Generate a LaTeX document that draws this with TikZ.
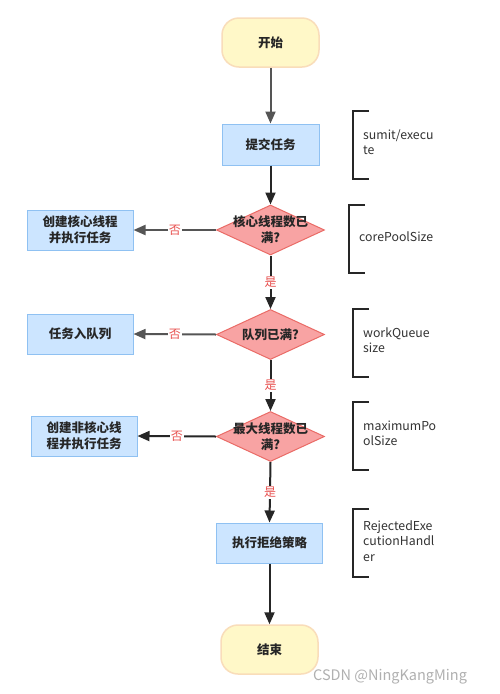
\documentclass[tikz,border=0pt]{standalone}
\usepackage{fontspec}
\setmainfont{Noto Sans CJK SC}
\usetikzlibrary{shapes.geometric,arrows.meta}
\definecolor{termfill}{HTML}{FFF8C8}
\definecolor{termdraw}{HTML}{F9DDBA}
\definecolor{boxfill}{HTML}{CCE5FF}
\definecolor{boxdraw}{HTML}{8FC1F2}
\definecolor{diafill}{HTML}{F8A3A3}
\definecolor{diadraw}{HTML}{EA6B66}
\definecolor{lblred}{HTML}{E8504F}
\definecolor{darkline}{HTML}{262626}
\definecolor{grayline}{HTML}{555555}
\definecolor{sidetext}{HTML}{333333}
\definecolor{wmark}{HTML}{B0B0B0}
\tikzset{
  nodefont/.style={font=\bfseries\fontsize{12.5}{16}\selectfont, text=black!85, align=center},
  term/.style={nodefont, draw=termdraw, fill=termfill, line width=1.5pt, rounded corners=17pt, minimum width=97pt, minimum height=49pt, inner sep=0pt},
  procbox/.style={nodefont, draw=boxdraw, fill=boxfill, line width=1pt, minimum width=97pt, minimum height=41pt, inner sep=0pt},
  widebox/.style={procbox, minimum width=106pt, minimum height=40pt},
  dia/.style={shape=diamond, draw=diadraw, fill=diafill, line width=1pt, minimum width=108pt, minimum height=50pt, inner sep=0pt},
  dtext/.style={nodefont, inner sep=0pt},
  darrow/.style={draw=darkline, line width=2pt, -{Triangle[length=12pt,width=10pt]}},
  garrow/.style={draw=grayline, line width=2pt, -{Triangle[length=12pt,width=10pt]}},
  lbl/.style={fill=white, text=lblred, font=\fontsize{12}{14}\selectfont, inner sep=1pt},
  sidelbl/.style={anchor=north west, align=left, text=sidetext, font=\fontsize{12.3}{15.5}\selectfont, inner sep=0pt},
  bracket/.style={draw=darkline, line width=1.6pt},
}
\begin{document}
\begin{tikzpicture}[x=1pt,y=-1pt]
\useasboundingbox[fill=white] (0,0) rectangle (500,694);
% nodes
\node[term] (start) at (270.5,42.5) {开始};
\node[procbox] (submit) at (270.5,144.5) {提交任务};
\node[dia] (d1) at (270.5,230) {};
\node[dtext] (d1t) at (270.5,230) {核心线程数已\\满?};
\node[widebox] (core) at (80,230) {创建核心线程\\并执行任务};
\node[dia] (d2) at (270.5,334.5) {};
\node[dtext] (d2t) at (270.5,334.5) {队列已满?};
\node[widebox] (queue) at (80,334) {任务入队列};
\node[dia] (d3) at (270.5,436.5) {};
\node[dtext] (d3t) at (270.5,436.5) {最大线程数已\\满?};
\node[widebox] (nonc) at (84,436) {创建非核心线\\程并执行任务};
\node[widebox] (reject) at (269.5,543) {执行拒绝策略};
\node[term] (end) at (269.5,649.5) {结束};
% connectors
\draw[garrow] (start) -- (submit);
\draw[darrow] (submit) -- (d1.north);
\draw[garrow] (d1.west) -- node[lbl] {否} (core.east);
\draw[darrow] (d1.south) -- node[lbl] {是} (d2.north);
\draw[garrow] (d2.west) -- node[lbl] {否} (queue.east);
\draw[darrow] (d2.south) -- node[lbl] {是} (d3.north);
\draw[darrow] (d3.west) -- node[lbl] {否} (nonc.east);
\draw[darrow] (d3.south) -- node[lbl] {是} (reject.north);
\draw[darrow] (reject) -- (end);
% side brackets and notes
\draw[bracket] (369,111) -- (353,111) -- (353,179) -- (369,179);
\node[sidelbl] (n1) at (363,129.5) {sumit/execu\\te};
\draw[bracket] (365,205) -- (349,205) -- (349,273) -- (365,273);
\node[sidelbl] (n2) at (359,231.5) {corePoolSize};
\draw[bracket] (369,309) -- (353,309) -- (353,377) -- (369,377);
\node[sidelbl] (n3) at (363,327.5) {workQueue\\size};
\draw[bracket] (369,402) -- (353,402) -- (353,470) -- (369,470);
\node[sidelbl] (n4) at (363,420.5) {maximumPo\\olSize};
\draw[bracket] (369,509) -- (353,509) -- (353,577) -- (369,577);
\node[sidelbl] (n5) at (363,520.5) {RejectedExe\\cutionHandl\\er};
% watermark
\node[anchor=west, text=wmark, font=\fontsize{14.5}{16}\selectfont, inner sep=0pt] (wm) at (313,677) {CSDN @NingKangMing};
\end{tikzpicture}
\end{document}
